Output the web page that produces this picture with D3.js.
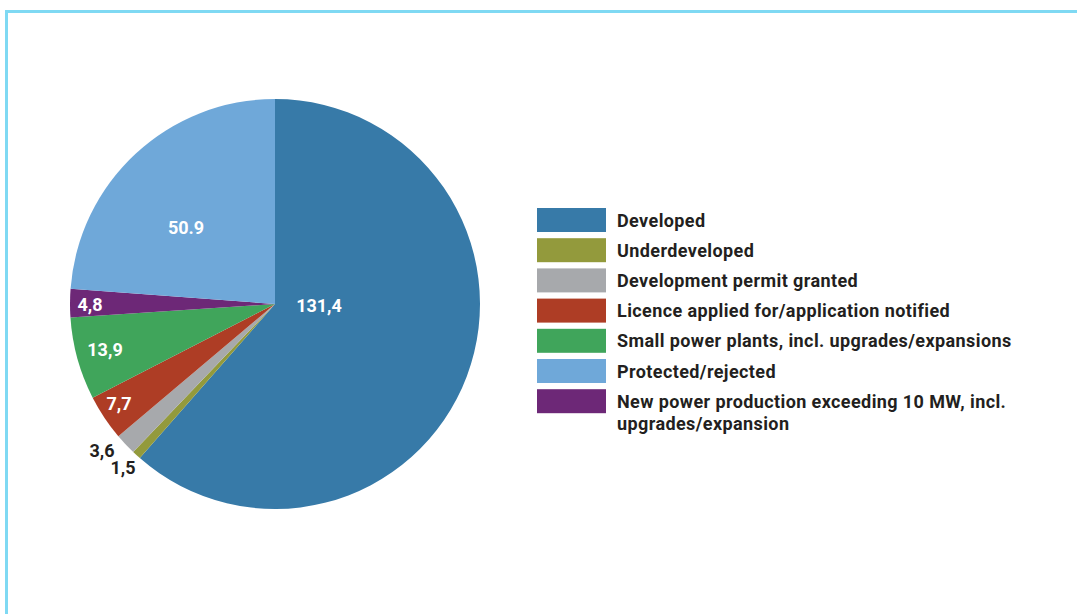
<!DOCTYPE html>
<html><head><meta charset="utf-8">
<script src="https://cdn.jsdelivr.net/npm/d3@7"></script>
<style>body{margin:0;background:#fff;}svg{display:block;}</style>
</head><body>
<svg id="c" width="1077" height="614"></svg>
<script>
const categories = ["Developed","Underdeveloped","Development permit granted","Licence applied for/application notified","Small power plants, incl. upgrades/expansions","New power production exceeding 10 MW, incl. upgrades/expansion","Protected/rejected"];
const values = [131.4, 1.5, 3.6, 7.7, 13.9, 4.8, 50.9];
const valueLabels = ["131,4","1,5","3,6","7,7","13,9","4,8","50.9"];
const colors = ["#377aa8","#939a3c","#a7a9ac","#ae3d25","#40a55b","#6d2877","#6fa8d9"];
const legendOrder = [0,1,2,3,4,6,5];
const legendLines = {5:["New power production exceeding 10 MW, incl.","upgrades/expansion"]};

const svg = d3.select("#c");
// frame
svg.append("path").attr("d","M6.5,614 V11.5 H1077").attr("fill","none").attr("stroke","#7fd9f3").attr("stroke-width",3);

const cx=275, cy=304, r=205;
const pie = d3.pie().sort(null).value(d=>d)(values);
const arc = d3.arc().innerRadius(0).outerRadius(r);
const g = svg.append("g").attr("transform",`translate(${cx},${cy})`);
g.selectAll("path").data(pie).join("path").attr("d",arc).attr("fill",(d,i)=>colors[i]);

const lblCfg = [
  {dx:44, dy:1, fill:"#fff"},
  {dx:-152, dy:163, fill:"#231f20"},
  {dx:-173, dy:146, fill:"#231f20"},
  {dx:-156, dy:99, fill:"#fff"},
  {dx:-170, dy:45, fill:"#fff"},
  {dx:-185, dy:0, fill:"#fff"},
  {dx:-89, dy:-77, fill:"#fff"}
];
g.selectAll("text.v").data(pie).join("text").attr("class","v")
  .attr("x",(d,i)=>lblCfg[i].dx).attr("y",(d,i)=>lblCfg[i].dy)
  .attr("text-anchor","middle").attr("dominant-baseline","central")
  .attr("font-family","Roboto, 'DejaVu Sans', sans-serif").attr("font-weight",700)
  .attr("font-size",18).attr("fill",(d,i)=>lblCfg[i].fill)
  .text((d,i)=>valueLabels[i]);

// legend
const lg = svg.append("g");
const y = d3.scaleLinear().domain([0,1]).range([208,238.2]);
legendOrder.forEach((idx,k)=>{
  const yy = y(k);
  lg.append("rect").attr("x",537).attr("y",yy).attr("width",69).attr("height",24).attr("fill",colors[idx]);
  const lines = legendLines[idx] || [categories[idx]];
  const t = lg.append("text").attr("x",617).attr("y",yy+18.5)
    .attr("font-family","Roboto, 'DejaVu Sans', sans-serif").attr("font-weight",700)
    .attr("font-size",18).attr("letter-spacing",0.4).attr("fill","#231f20");
  lines.forEach((ln,j)=>t.append("tspan").attr("x",617).attr("dy",j?22:0).text(ln));
});
</script>
</body></html>
